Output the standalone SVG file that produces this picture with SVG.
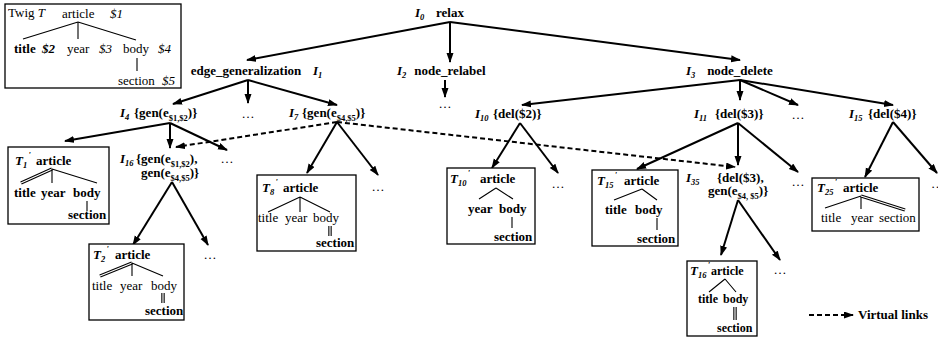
<svg xmlns="http://www.w3.org/2000/svg" width="938" height="341" viewBox="0 0 938 341">
  <defs>
    <style>
      text { font-family: "Liberation Serif", "Times New Roman", serif; font-size: 13px; fill: #000; }
      .b { font-weight: bold; }
      .i { font-style: italic; }
      .m { text-anchor: middle; }
      .sub { font-size: 8.5px; }
      .pr { font-size: 9px; font-weight: bold; }
      .s12 { font-size: 12px; }
      .e { stroke: #000; stroke-width: 2; fill: none; marker-end: url(#ah); }
      .v { stroke-dasharray: 5 3; }
      .t { stroke: #000; stroke-width: 1.1; fill: none; }
      .dbo { stroke: #000; stroke-width: 3.4; fill: none; }
      .dbi { stroke: #fff; stroke-width: 1.2; fill: none; }
      .box { fill: #fff; stroke: #000; stroke-width: 1.3; }
    </style>
    <marker id="ah" markerWidth="10" markerHeight="8" refX="9" refY="3.5" orient="auto" markerUnits="userSpaceOnUse">
      <path d="M0,0 L10,3.5 L0,7 z" fill="#000"/>
    </marker>
  </defs>

  <!-- Twig pattern -->
  <g id="twig">
    <rect class="box" x="5" y="4" width="176" height="84"/>
    <text x="8" y="17">Twig <tspan class="i">T</tspan></text>
    <text x="62" y="18">article</text>
    <text x="110" y="18" class="i">$1</text>
    <path class="t" d="M78,22 L23,39 M78,22 L78,39 M78,22 L136,40 M137,58 L137,71"/>
    <text x="14" y="53" class="b">title</text>
    <text x="42" y="53" class="b i">$2</text>
    <text x="67" y="53">year</text>
    <text x="99" y="53" class="i">$3</text>
    <text x="123" y="53">body</text>
    <text x="158" y="53" class="i">$4</text>
    <text x="118" y="85">section</text>
    <text x="162" y="85" class="i">$5</text>
  </g>

  <!-- connectors -->
  <g id="edges">
    <path class="e" d="M450,22 L247,60"/>
    <path class="e" d="M450,22 L450,62"/>
    <path class="e" d="M450,22 L740,60"/>
    <path class="e" d="M445,80 L445,97"/>
    <path class="e" d="M248,80 L173,104"/>
    <path class="e" d="M248,80 L248,103"/>
    <path class="e" d="M248,80 L337,105"/>
    <path class="e" d="M170,123 L65,141"/>
    <path class="e" d="M170,123 L170,148"/>
    <path class="e" d="M170,123 L227,150"/>
    <path class="e" d="M172,182 L133,245"/>
    <path class="e" d="M172,182 L208,245"/>
    <path class="e" d="M337,122 L307,173"/>
    <path class="e" d="M337,122 L378,175"/>
    <path class="e" d="M740,80 L522,105"/>
    <path class="e" d="M740,80 L740,100"/>
    <path class="e" d="M740,80 L798,105"/>
    <path class="e" d="M740,80 L893,105"/>
    <path class="e" d="M520,123 L492,168"/>
    <path class="e" d="M520,123 L558,173"/>
    <path class="e" d="M738,123 L637,169"/>
    <path class="e" d="M738,123 L738,165"/>
    <path class="e" d="M738,123 L798,172"/>
    <path class="e" d="M738,200 L721,255"/>
    <path class="e" d="M738,200 L780,260"/>
    <path class="e" d="M893,122 L865,177"/>
    <path class="e" d="M893,122 L937,173"/>
    <!-- virtual links -->
    <path class="e v" d="M337,122 L176,147"/>
    <path class="e v" d="M337,122 L735,167"/>
    <path class="e v" d="M809,315 L853,315"/>
  </g>

  <g id="I0">
    <text x="415" y="17" class="b i">I<tspan class="sub" dy="3">0</tspan></text>
    <text x="450" y="17" class="b m">relax</text>
  </g>
  <g id="I1">
    <text x="246" y="75" class="b m">edge_generalization</text>
    <text x="313" y="75" class="b i">I<tspan class="sub" dy="3">1</tspan></text>
  </g>
  <g id="I2">
    <text x="397" y="75" class="b i">I<tspan class="sub" dy="3">2</tspan></text>
    <text x="450" y="75" class="b m">node_relabel</text>
    <text x="445" y="108" class="m">…</text>
  </g>
  <g id="I3">
    <text x="686" y="75" class="b i">I<tspan class="sub" dy="3">3</tspan></text>
    <text x="740" y="75" class="b m">node_delete</text>
  </g>

  <g id="I4">
    <text x="120" y="117" class="b i">I<tspan class="sub" dy="3">4</tspan></text>
    <text x="134" y="117" class="b">{gen(e<tspan class="sub" dy="4">$1,$2</tspan><tspan dy="-4">)}</tspan></text>
  </g>
  <text x="248" y="118" class="m">…</text>
  <g id="I7">
    <text x="289" y="117" class="b i">I<tspan class="sub" dy="3">7</tspan></text>
    <text x="302" y="117" class="b">{gen(e<tspan class="sub" dy="4">$4,$5</tspan><tspan dy="-4">)}</tspan></text>
  </g>
  <g id="I10">
    <text x="475" y="118" class="b i">I<tspan class="sub" dy="3">10</tspan></text>
    <text x="493" y="118" class="b">{del($2)}</text>
  </g>
  <g id="I11">
    <text x="694" y="118" class="b i">I<tspan class="sub" dy="3">11</tspan></text>
    <text x="715" y="118" class="b">{del($3)}</text>
  </g>
  <text x="798" y="119" class="m">…</text>
  <g id="I15">
    <text x="849" y="118" class="b i">I<tspan class="sub" dy="3">15</tspan></text>
    <text x="868" y="118" class="b">{del($4)}</text>
  </g>

  <text x="227" y="163" class="m">…</text>
  <g id="I16">
    <text x="120" y="163" class="b i">I<tspan class="sub" dy="3">16</tspan></text>
    <text x="136" y="163" class="b">{gen(e<tspan class="sub" dy="4">$1,$2</tspan><tspan dy="-4">),</tspan></text>
    <text x="141" y="177" class="b">gen(e<tspan class="sub" dy="4">$4,$5</tspan><tspan dy="-4">)}</tspan></text>
  </g>
  <text x="210" y="259" class="m">…</text>
  <text x="378" y="191" class="m">…</text>
  <text x="558" y="188" class="m">…</text>
  <text x="798" y="186" class="m">…</text>
  <g id="I35">
    <text x="686" y="182" class="b i">I<tspan class="sub" dy="3">35</tspan></text>
    <text x="717" y="182" class="b">{del($3),</text>
    <text x="708" y="195" class="b">gen(e<tspan class="sub" dy="4">$4, $5</tspan><tspan dy="-4">)}</tspan></text>
  </g>
  <text x="780" y="274" class="m">…</text>
  <text x="931" y="188">…</text>

  <!-- T1' -->
  <g id="T1">
    <rect class="box" x="8" y="147" width="101" height="77"/>
    <text x="15" y="165" class="b i">T<tspan class="sub" dy="3">1</tspan><tspan class="pr" dx="1" dy="-10">'</tspan></text>
    <text x="36" y="165" class="b">article</text>
    <path class="dbo" d="M52,169 L21,183"/>
    <path class="dbi" d="M52,169 L21,183"/>
    <path class="t" d="M52,169 L52,183 M52,169 L97,183 M87,201 L87,211"/>
    <text x="14" y="197" class="b">title</text>
    <text x="41" y="197" class="b">year</text>
    <text x="73" y="197" class="b">body</text>
    <text x="68" y="219" class="b">section</text>
  </g>

  <!-- T2' -->
  <g id="T2">
    <rect class="box" x="89" y="244" width="95" height="76"/>
    <text x="93" y="259" class="b i">T<tspan class="sub" dy="3">2</tspan><tspan class="pr" dx="1" dy="-10">'</tspan></text>
    <text x="115" y="259" class="b">article</text>
    <path class="dbo" d="M132,263 L100,276"/>
    <path class="dbi" d="M132,263 L100,276"/>
    <path class="t" d="M132,263 L132,276 M132,263 L163,276"/>
    <path class="dbo" d="M163,293 L163,303"/>
    <path class="dbi" d="M163,293 L163,303"/>
    <text x="92" y="290">title</text>
    <text x="120" y="290">year</text>
    <text x="151" y="290">body</text>
    <text x="145" y="315" class="b">section</text>
  </g>

  <!-- T8' -->
  <g id="T8">
    <rect class="box" x="257" y="175" width="99" height="76"/>
    <text x="262" y="192" class="b i">T<tspan class="sub" dy="3">8</tspan><tspan class="pr" dx="1" dy="-10">'</tspan></text>
    <text x="283" y="192" class="b">article</text>
    <path class="t" d="M300,197 L268,212 M300,197 L300,212 M300,197 L330,212"/>
    <path class="dbo" d="M330,226 L330,236"/>
    <path class="dbi" d="M330,226 L330,236"/>
    <text x="258" y="222">title</text>
    <text x="285" y="222">year</text>
    <text x="313" y="222">body</text>
    <text x="316" y="247" class="b">section</text>
  </g>

  <!-- T10' -->
  <g id="T10">
    <rect class="box" x="447" y="168" width="88" height="76"/>
    <text x="450" y="183" class="b i">T<tspan class="sub" dy="3">10</tspan><tspan class="pr" dx="1" dy="-10">'</tspan></text>
    <text x="480" y="183" class="b">article</text>
    <path class="t" d="M496,188 L479,199 M496,188 L513,199 M512,217 L512,228"/>
    <text x="468" y="213" class="b">year</text>
    <text x="499" y="213" class="b">body</text>
    <text x="494" y="241" class="b">section</text>
  </g>

  <!-- T15' -->
  <g id="T15">
    <rect class="box" x="592" y="170" width="86" height="76"/>
    <text x="597" y="185" class="b i">T<tspan class="sub" dy="3">15</tspan><tspan class="pr" dx="1" dy="-10">'</tspan></text>
    <text x="624" y="185" class="b">article</text>
    <path class="t" d="M642,189 L614,200 M642,189 L657,200 M657,218 L657,230"/>
    <text x="605" y="214" class="b">title</text>
    <text x="635" y="214" class="b">body</text>
    <text x="637" y="243" class="b">section</text>
  </g>

  <!-- T16' -->
  <g id="T16">
    <rect class="box" x="687" y="261" width="70" height="75"/>
    <text x="690" y="275" class="b i">T<tspan class="sub" dy="3">16</tspan><tspan class="pr" dx="1" dy="-10">'</tspan></text>
    <text x="711" y="275" class="b s12">article</text>
    <path class="t" d="M725,279 L709,292 M725,279 L736,292"/>
    <path class="dbo" d="M735,307 L735,320"/>
    <path class="dbi" d="M735,307 L735,320"/>
    <text x="698" y="303" class="b s12">title</text>
    <text x="723" y="303" class="b s12">body</text>
    <text x="717" y="332" class="b s12">section</text>
  </g>

  <!-- T25' -->
  <g id="T25">
    <rect class="box" x="812" y="178" width="107" height="53"/>
    <text x="817" y="192" class="b i">T<tspan class="sub" dy="3">25</tspan><tspan class="pr" dx="1" dy="-10">'</tspan></text>
    <text x="843" y="192" class="b">article</text>
    <path class="t" d="M861,196 L825,208 M861,196 L861,209"/>
    <path class="dbo" d="M861,196 L905,210"/>
    <path class="dbi" d="M861,196 L905,210"/>
    <text x="821" y="222">title</text>
    <text x="851" y="222">year</text>
    <text x="879" y="222">section</text>
  </g>

  <g id="legend">
    <text x="858" y="319" class="b">Virtual links</text>
  </g>
</svg>
